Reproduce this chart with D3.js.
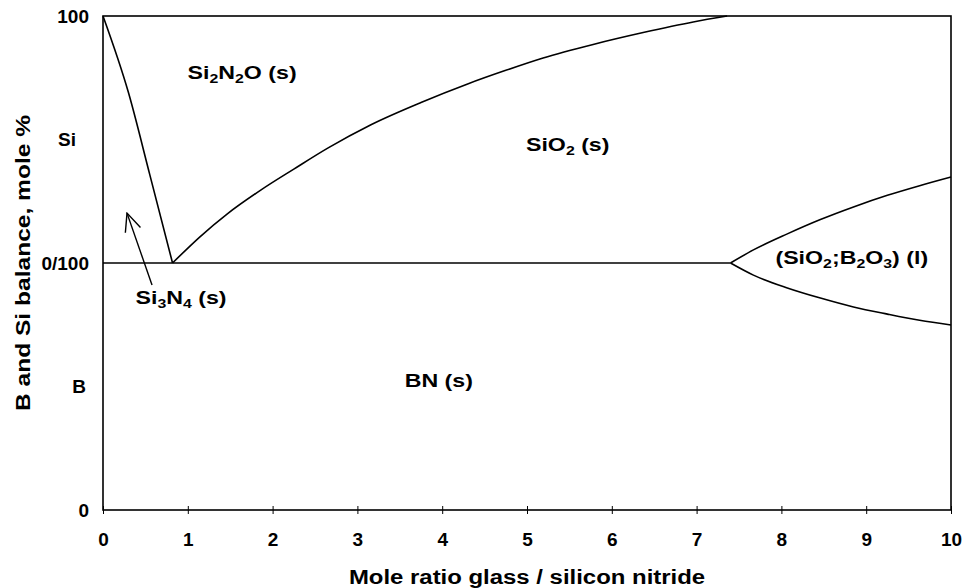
<!DOCTYPE html>
<html>
<head>
<meta charset="utf-8">
<script src="https://cdn.jsdelivr.net/npm/d3@7"></script>
<style>
body { margin: 0; background: #fff; }
text { font-family: "Liberation Sans", Arial, sans-serif; font-weight: bold; fill: #000; }
</style>
</head>
<body>
<div id="chart"></div>
<script>
// phase boundaries, x = mole ratio glass / silicon nitride, y = 0..200 (B 0-100, Si 0-100)
var si3n4Boundary = [[0,200],[0.3,169],[0.55,136],[0.82,100]];
var sio2Boundary = [[0.82,100],[1.14,110.5],[1.47,120],[1.86,129.5],[2.25,138],[2.65,146.5],[3.16,156],[3.75,165],[4.3,172.5],[4.75,178],[5.19,183],[5.78,188.5],[6.37,193.3],[6.96,197.6],[7.36,200]];
var bnBoundary = [[0,100],[7.4,100]];
var liquidUpper = [[7.4,100],[7.67,105.3],[8.07,111.8],[8.46,117.6],[8.85,122.7],[9.25,127.4],[9.63,131.3],[10,134.8]];
var liquidLower = [[7.4,100],[7.67,95.1],[8.07,89.9],[8.46,85.8],[8.85,82.2],[9.25,79.3],[9.63,76.8],[10,74.9]];

var xTicks = [0,1,2,3,4,5,6,7,8,9,10];
var yTicks = [0,50,100,150,200];
var yTickLabels = ["0","B","0/100","Si","100"];

// phase labels: [x, y, text parts] ; parts with sub:true are subscripts
var phaseLabels = [
  [1.64, 177, [{t:"Si"},{t:"2",sub:true},{t:"N"},{t:"2",sub:true},{t:"O (s)"}]],
  [5.48, 148, [{t:"SiO"},{t:"2",sub:true},{t:" (s)"}]],
  [8.83, 102.4, [{t:"(SiO"},{t:"2",sub:true},{t:";B"},{t:"2",sub:true},{t:"O"},{t:"3",sub:true},{t:") (l)"}]],
  [0.92, 86.2, [{t:"Si"},{t:"3",sub:true},{t:"N"},{t:"4",sub:true},{t:" (s)"}]],
  [3.96, 52.6, [{t:"BN (s)"}]]
];
var arrowFrom = [0.578, 91.1];
var arrowTo = [0.283, 120.2];

var width = 963, height = 588;
var margin = {top: 16, right: 12, bottom: 78, left: 103};

var svg = d3.select("#chart").append("svg").attr("width", width).attr("height", height);

var x = d3.scaleLinear().domain([0,10]).range([margin.left, width - margin.right]);
var y = d3.scaleLinear().domain([0,200]).range([height - margin.bottom, margin.top]);

// x axis
var xAxis = svg.append("g").attr("transform", "translate(0," + y(0) + ")")
  .call(d3.axisBottom(x).tickValues(xTicks).tickFormat(d3.format("d")).tickSize(4).tickSizeOuter(0));
xAxis.select(".domain").remove();
xAxis.selectAll(".tick line").attr("y1", -4).attr("y2", 4).attr("stroke", "#000");
xAxis.selectAll(".tick text").attr("y", 36).attr("dy", 0).style("font-size", "19px").style("font-family", null);

// y axis
var yAxis = svg.append("g").attr("transform", "translate(" + x(0) + ",0)")
  .call(d3.axisLeft(y).tickValues(yTicks).tickFormat(function(d,i){return yTickLabels[i]}).tickSize(0).tickPadding(14));
yAxis.select(".domain").remove();
yAxis.selectAll(".tick text").style("font-size", "19px").style("font-family", null);
yAxis.selectAll(".tick text").filter(function(d){return d === 150}).attr("dx", -13);
yAxis.selectAll(".tick text").filter(function(d){return d === 50}).attr("dx", -3);

// frame
svg.append("rect").attr("x", x(0)).attr("y", y(200)).attr("width", x(10) - x(0)).attr("height", y(0) - y(200))
  .style("fill", "none").style("stroke", "#000").style("stroke-width", 1.6);

// boundaries
var line = d3.line().x(function(d){return x(d[0])}).y(function(d){return y(d[1])}).curve(d3.curveMonotoneX);
[si3n4Boundary, bnBoundary, sio2Boundary, liquidUpper, liquidLower].forEach(function(s){
  svg.append("path").attr("d", line(s)).style("fill", "none").style("stroke", "#000").style("stroke-width", 1.6);
});

// arrow to the Si3N4 field
svg.append("defs").append("marker").attr("id", "arrowHead")
  .attr("viewBox", "0 0 20 20").attr("refX", 19).attr("refY", 10)
  .attr("markerWidth", 20).attr("markerHeight", 20).attr("markerUnits", "userSpaceOnUse").attr("orient", "auto")
  .append("path").attr("d", "M1,2 L19,10 L1,18").style("fill", "none").style("stroke", "#000").style("stroke-width", 1.4);
svg.append("line").attr("x1", x(arrowFrom[0])).attr("y1", y(arrowFrom[1])).attr("x2", x(arrowTo[0])).attr("y2", y(arrowTo[1]))
  .style("stroke", "#000").style("stroke-width", 1.4).attr("marker-end", "url(#arrowHead)");

// phase labels (the original lettering is a bit wider than Arial bold)
phaseLabels.forEach(function(p){
  var t = svg.append("g").attr("transform", "translate(" + x(p[0]) + "," + y(p[1]) + ") scale(1.22,1)")
    .append("text").attr("dy", "0.35em").attr("text-anchor", "middle").style("font-size", "19px");
  var down = false;
  p[2].forEach(function(part){
    var ts = t.append("tspan").text(part.t);
    if (part.sub && !down) { ts.attr("dy", 4).style("font-size", "13px"); down = true; }
    else if (part.sub) { ts.style("font-size", "13px"); }
    else if (down) { ts.attr("dy", -4); down = false; }
  });
});

// axis titles
svg.append("text").attr("transform", "translate(" + (x(0) + x(10)) / 2 + ",584) scale(1.14,1)").attr("text-anchor", "middle")
  .style("font-size", "21px").text("Mole ratio glass / silicon nitride");
svg.append("text").attr("transform", "translate(30," + y(100) + ") rotate(-90) scale(1.17,1)").attr("text-anchor", "middle")
  .style("font-size", "21px").text("B and Si balance, mole %");
</script>
</body>
</html>
